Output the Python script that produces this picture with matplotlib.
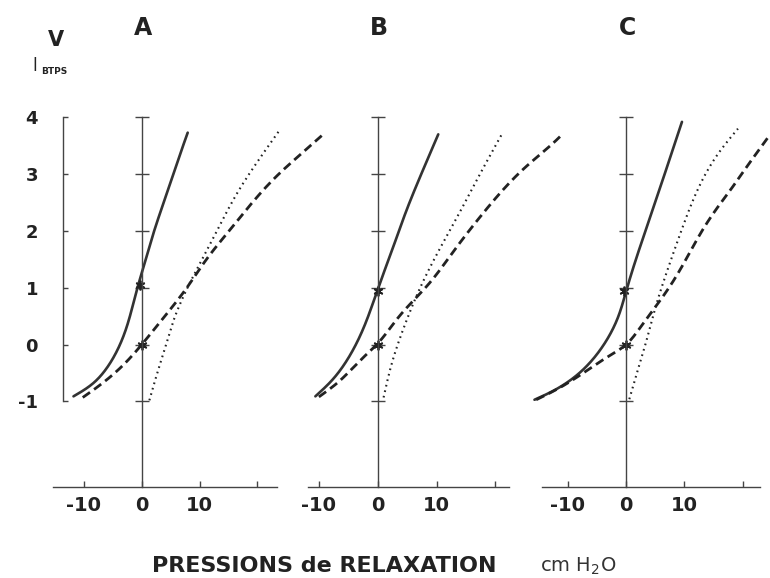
import matplotlib
matplotlib.use("Agg")
import matplotlib.pyplot as plt
import numpy as np

# ---------------- data ----------------
panel_names = ["A", "B", "C"]
y_ticks = [-1, 0, 1, 2, 3, 4]
x_ticks = [-10, 0, 10, 20]
x_ticklabels = ["-10", "0", "10", ""]

# Panel A
a_solid_x = [-11.8, -8.4, -5.5, -2.6, -0.87, 0.29, 2.0, 4.3, 6.06, 7.96]
a_solid_y = [-0.91, -0.68, -0.33, 0.31, 0.95, 1.36, 1.95, 2.65, 3.18, 3.73]
a_dash_x = [-10.2, -7.2, -3.2, 0.0, 3.2, 7.8, 11.2, 14.7, 19.9, 23.4, 27.4, 31.4]
a_dash_y = [-0.93, -0.71, -0.36, 0.0, 0.4, 1.0, 1.5, 1.95, 2.59, 2.97, 3.34, 3.7]
a_dot_x = [1.33, 2.4, 3.3, 4.5, 5.6, 7.0, 8.4, 10.3, 13.0, 16.6, 19.9, 23.9]
a_dot_y = [-0.98, -0.6, -0.3, 0.1, 0.45, 0.8, 1.1, 1.47, 2.0, 2.68, 3.2, 3.78]
a_marks_x = [-0.3, 0.0]
a_marks_y = [1.05, 0.0]

# Panel B
b_solid_x = [-10.6, -7.8, -4.9, -2.1, 0.1, 2.4, 4.85, 7.2, 10.3]
b_solid_y = [-0.91, -0.63, -0.22, 0.37, 1.0, 1.65, 2.35, 2.95, 3.7]
b_dash_x = [-10.0, -6.6, -2.7, 0.0, 3.6, 8.7, 12.6, 18.3, 25.1, 30.2, 31.0]
b_dash_y = [-0.92, -0.65, -0.25, 0.02, 0.49, 1.07, 1.6, 2.36, 3.12, 3.58, 3.66]
b_dot_x = [1.0, 2.4, 4.7, 7.0, 9.8, 13.8, 17.7, 21.1]
b_dot_y = [-0.93, -0.33, 0.37, 0.95, 1.54, 2.3, 3.06, 3.7]
b_marks_x = [0.0, 0.0]
b_marks_y = [0.95, 0.0]

# Panel C
c_solid_x = [-15.7, -12.6, -8.0, -4.0, -1.3, 0.0, 1.14, 3.4, 6.3, 9.6]
c_solid_y = [-0.97, -0.82, -0.5, -0.03, 0.5, 0.93, 1.32, 2.02, 2.9, 3.92]
c_dash_x = [-15.4, -11.4, -6.9, -2.9, 0.0, 2.3, 5.6, 8.6, 12.8, 15.6, 17.9, 20.1, 22.4, 24.6]
c_dash_y = [-0.97, -0.76, -0.47, -0.2, 0.0, 0.28, 0.74, 1.2, 1.96, 2.4, 2.72, 3.04, 3.37, 3.68]
c_dot_x = [0.57, 1.7, 3.4, 5.1, 6.9, 9.3, 12.0, 15.4, 19.2]
c_dot_y = [-0.96, -0.56, 0.03, 0.67, 1.25, 1.95, 2.66, 3.3, 3.8]
c_marks_x = [-0.3, 0.0]
c_marks_y = [0.95, 0.0]

panels = [
    (a_solid_x, a_solid_y, a_dash_x, a_dash_y, a_dot_x, a_dot_y, a_marks_x, a_marks_y),
    (b_solid_x, b_solid_y, b_dash_x, b_dash_y, b_dot_x, b_dot_y, b_marks_x, b_marks_y),
    (c_solid_x, c_solid_y, c_dash_x, c_dash_y, c_dot_x, c_dot_y, c_marks_x, c_marks_y),
]

# ---------------- layout (pixels) ----------------
W, H = 770, 578
x0_px = [141.7, 377.7, 626.0]
sx_px = [5.78, 5.88, 5.83]
xlims = [(-15.4, 23.4), (-11.8, 22.4), (-14.4, 23.0)]
ylim = (-2.5, 4.0)
y_bottom_px, y_top_px = 486.7, 117.3

plt.rcParams['font.family'] = ['DejaVu Sans']
fig = plt.figure(figsize=(W / 100, H / 100), dpi=100)
fig.patch.set_facecolor("white")

ink = "#222222"
axis_col = "#444444"


def natural_spline(t, v, tt):
    n = len(t)
    h = np.diff(t)
    A = np.zeros((n, n))
    r = np.zeros(n)
    A[0, 0] = A[-1, -1] = 1.0
    for k in range(1, n - 1):
        A[k, k - 1] = h[k - 1]
        A[k, k] = 2 * (h[k - 1] + h[k])
        A[k, k + 1] = h[k]
        r[k] = 3 * ((v[k + 1] - v[k]) / h[k] - (v[k] - v[k - 1]) / h[k - 1])
    c = np.linalg.solve(A, r)
    b = (v[1:] - v[:-1]) / h - h * (2 * c[:-1] + c[1:]) / 3
    d = (c[1:] - c[:-1]) / (3 * h)
    idx = np.clip(np.searchsorted(t, tt) - 1, 0, n - 2)
    dt = tt - t[idx]
    return v[idx] + b[idx] * dt + c[idx] * dt**2 + d[idx] * dt**3


def smooth(xs, ys, n=400):
    """Parametric natural cubic spline through the points (chord-length parameter)."""
    x = np.asarray(xs, float) / 10.0
    y = np.asarray(ys, float)
    t = np.r_[0, np.cumsum(np.hypot(np.diff(x), np.diff(y)))]
    tt = np.linspace(0, t[-1], n)
    return natural_spline(t, x, tt) * 10.0, natural_spline(t, y, tt)


for i, (name, data) in enumerate(zip(panel_names, panels)):
    sx_, sy_, dx_, dy_, px_, py_, mx_, my_ = data
    xl = xlims[i]
    left = (x0_px[i] + xl[0] * sx_px[i]) / W
    width = (xl[1] - xl[0]) * sx_px[i] / W
    bottom = (H - y_bottom_px) / H
    height = (y_bottom_px - y_top_px) / H
    ax = fig.add_axes([left, bottom, width, height])
    ax.set_xlim(*xl)
    ax.set_ylim(*ylim)
    ax.patch.set_alpha(0)
    for s in ["top", "right"]:
        ax.spines[s].set_visible(False)
    ax.spines["left"].set_position(("data", 0))
    ax.spines["left"].set_bounds(ylim[0], ylim[1])
    for s in ["left", "bottom"]:
        ax.spines[s].set_color(axis_col)
        ax.spines[s].set_linewidth(1.0)
    ax.set_yticks(y_ticks)
    ax.set_yticklabels([])
    ax.tick_params(axis="y", direction="inout", length=9.5, width=1.0, color=axis_col)
    ax.set_xticks(x_ticks)
    ax.set_xticklabels(x_ticklabels, fontweight="bold", color=ink)
    ax.tick_params(axis="x", direction="in", length=4, width=1.0, color=axis_col,
                   pad=7, labelsize=14)

    xs, ys = smooth(sx_, sy_)
    ax.plot(xs, ys, color="#333333", lw=1.9, solid_capstyle="round", clip_on=False)
    xs, ys = smooth(dx_, dy_)
    ax.plot(xs, ys, color=ink, lw=2.0, dashes=(3.2, 1.8), clip_on=False)
    xs, ys = smooth(px_, py_)
    ax.plot(xs, ys, color=ink, lw=1.5, dashes=(0.8, 1.9), clip_on=False)
    ax.plot(mx_, my_, linestyle="none", marker=(6, 2, 0), ms=7, mew=1.3, color=ink,
            clip_on=False)

    fig.text((x0_px[i] + 1) / W, 1 - 28 / H, name, fontsize=17, ha="center", va="center",
             color=ink, fontweight="bold")

    if i == 0:
        # bracket axis with the volume labels
        axb = fig.add_axes([left, bottom, width, height])
        axb.set_xlim(*xl)
        axb.set_ylim(*ylim)
        axb.patch.set_alpha(0)
        for s in ["top", "right", "bottom"]:
            axb.spines[s].set_visible(False)
        axb.spines["left"].set_position(("data", -13.6))
        axb.spines["left"].set_bounds(-1, 4)
        axb.spines["left"].set_color(axis_col)
        axb.spines["left"].set_linewidth(1.0)
        axb.set_xticks([])
        axb.set_yticks(y_ticks)
        axb.set_yticklabels([str(v) for v in y_ticks], fontweight="bold", color=ink)
        axb.set_yticks([0], minor=True)
        axb.tick_params(axis="y", which="major", direction="in", length=3.5, width=1.0,
                        color=axis_col, pad=18, labelsize=13)
        axb.tick_params(axis="y", which="minor", direction="in", length=9, width=1.0,
                        color=axis_col)

fig.text(56 / W, 1 - 40 / H, "V", fontsize=15, ha="center", va="center", color=ink,
         fontweight="bold")
fig.text(35 / W, 1 - 66 / H, "l", fontsize=12, ha="center", va="center", color=ink)
fig.text(41 / W, 1 - 72 / H, "BTPS", fontsize=6.5, ha="left", va="center",
         color=ink, fontweight="bold")
fig.text(324 / W, 1 - 566 / H, "PRESSIONS de RELAXATION", fontsize=16, ha="center",
         va="center", color=ink, fontweight="bold")
fig.text(578 / W, 1 - 566 / H, "cm H$_2$O", fontsize=14, ha="center", va="center",
         color="#333333")

fig.savefig("out.png", dpi=100, facecolor="white")
